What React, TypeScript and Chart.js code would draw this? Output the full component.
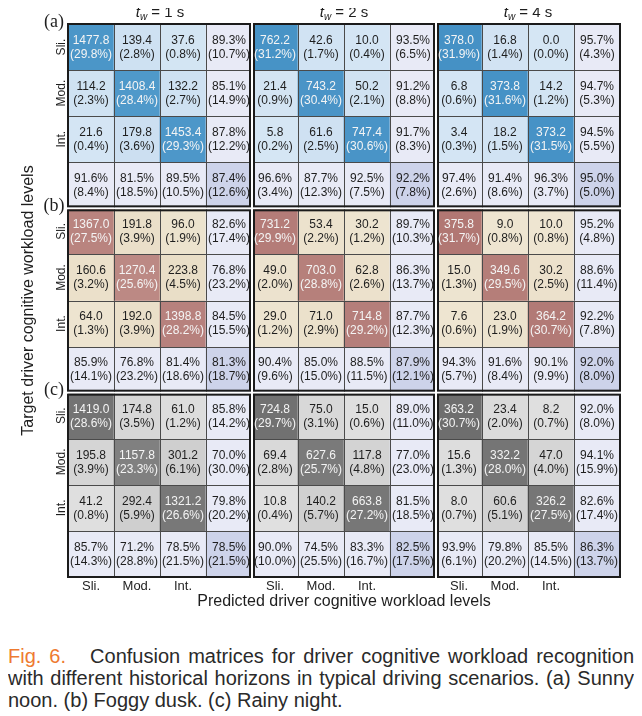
import { useEffect, useRef } from 'react';
import { Chart, registerables } from 'chart.js';

Chart.register(...registerables);

// Workload levels on both axes, historical horizons per column block, scenario tags per row block
const levels = ['Sli.', 'Mod.', 'Int.'];
const horizonLabels = ['1 s', '2 s', '4 s'];
const panelTags = ['(a)', '(b)', '(c)'];

// (a) Sunny noon — counts and shares, row-major 3x3 for each horizon
const sunnyCounts = [
  [1477.8, 139.4, 37.6, 114.2, 1408.4, 132.2, 21.6, 179.8, 1453.4],
  [762.2, 42.6, 10.0, 21.4, 743.2, 50.2, 5.8, 61.6, 747.4],
  [378.0, 16.8, 0.0, 6.8, 373.8, 14.2, 3.4, 18.2, 373.2],
];
const sunnyShares = [
  [29.8, 2.8, 0.8, 2.3, 28.4, 2.7, 0.4, 3.6, 29.3],
  [31.2, 1.7, 0.4, 0.9, 30.4, 2.1, 0.2, 2.5, 30.6],
  [31.9, 1.4, 0.0, 0.6, 31.6, 1.2, 0.3, 1.5, 31.5],
];
const sunnyRecall = [[89.3, 85.1, 87.8], [93.5, 91.2, 91.7], [95.7, 94.7, 94.5]];
const sunnyRecallMiss = [[10.7, 14.9, 12.2], [6.5, 8.8, 8.3], [4.3, 5.3, 5.5]];
const sunnyPrecision = [[91.6, 81.5, 89.5], [96.6, 87.7, 92.5], [97.4, 91.4, 96.3]];
const sunnyPrecisionMiss = [[8.4, 18.5, 10.5], [3.4, 12.3, 7.5], [2.6, 8.6, 3.7]];
const sunnyAccuracy = [87.4, 92.2, 95.0];
const sunnyAccuracyMiss = [12.6, 7.8, 5.0];

// (b) Foggy dusk
const foggyCounts = [
  [1367.0, 191.8, 96.0, 160.6, 1270.4, 223.8, 64.0, 192.0, 1398.8],
  [731.2, 53.4, 30.2, 49.0, 703.0, 62.8, 29.0, 71.0, 714.8],
  [375.8, 9.0, 10.0, 15.0, 349.6, 30.2, 7.6, 23.0, 364.2],
];
const foggyShares = [
  [27.5, 3.9, 1.9, 3.2, 25.6, 4.5, 1.3, 3.9, 28.2],
  [29.9, 2.2, 1.2, 2.0, 28.8, 2.6, 1.2, 2.9, 29.2],
  [31.7, 0.8, 0.8, 1.3, 29.5, 2.5, 0.6, 1.9, 30.7],
];
const foggyRecall = [[82.6, 76.8, 84.5], [89.7, 86.3, 87.7], [95.2, 88.6, 92.2]];
const foggyRecallMiss = [[17.4, 23.2, 15.5], [10.3, 13.7, 12.3], [4.8, 11.4, 7.8]];
const foggyPrecision = [[85.9, 76.8, 81.4], [90.4, 85.0, 88.5], [94.3, 91.6, 90.1]];
const foggyPrecisionMiss = [[14.1, 23.2, 18.6], [9.6, 15.0, 11.5], [5.7, 8.4, 9.9]];
const foggyAccuracy = [81.3, 87.9, 92.0];
const foggyAccuracyMiss = [18.7, 12.1, 8.0];

// (c) Rainy night
const rainyCounts = [
  [1419.0, 174.8, 61.0, 195.8, 1157.8, 301.2, 41.2, 292.4, 1321.2],
  [724.8, 75.0, 15.0, 69.4, 627.6, 117.8, 10.8, 140.2, 663.8],
  [363.2, 23.4, 8.2, 15.6, 332.2, 47.0, 8.0, 60.6, 326.2],
];
const rainyShares = [
  [28.6, 3.5, 1.2, 3.9, 23.3, 6.1, 0.8, 5.9, 26.6],
  [29.7, 3.1, 0.6, 2.8, 25.7, 4.8, 0.4, 5.7, 27.2],
  [30.7, 2.0, 0.7, 1.3, 28.0, 4.0, 0.7, 5.1, 27.5],
];
const rainyRecall = [[85.8, 70.0, 79.8], [89.0, 77.0, 81.5], [92.0, 94.1, 82.6]];
const rainyRecallMiss = [[14.2, 30.0, 20.2], [11.0, 23.0, 18.5], [8.0, 15.9, 17.4]];
const rainyPrecision = [[85.7, 71.2, 78.5], [90.0, 74.5, 83.3], [93.9, 79.8, 85.5]];
const rainyPrecisionMiss = [[14.3, 28.8, 21.5], [10.0, 25.5, 16.7], [6.1, 20.2, 14.5]];
const rainyAccuracy = [78.5, 82.5, 86.3];
const rainyAccuracyMiss = [21.5, 17.5, 13.7];

const panels = [
  { counts: sunnyCounts, shares: sunnyShares, recall: sunnyRecall, recallMiss: sunnyRecallMiss, precision: sunnyPrecision, precisionMiss: sunnyPrecisionMiss, accuracy: sunnyAccuracy, accuracyMiss: sunnyAccuracyMiss },
  { counts: foggyCounts, shares: foggyShares, recall: foggyRecall, recallMiss: foggyRecallMiss, precision: foggyPrecision, precisionMiss: foggyPrecisionMiss, accuracy: foggyAccuracy, accuracyMiss: foggyAccuracyMiss },
  { counts: rainyCounts, shares: rainyShares, recall: rainyRecall, recallMiss: rainyRecallMiss, precision: rainyPrecision, precisionMiss: rainyPrecisionMiss, accuracy: rainyAccuracy, accuracyMiss: rainyAccuracyMiss },
];

// Colour ramps per scenario: off-diagonal (light) and diagonal (strong)
const palettes = [
  { offLo: '#d5e6f4', offHi: '#c6dbef', diagLo: '#5fa4d2', diagHi: '#4591c5' },
  { offLo: '#efe6d3', offHi: '#e7dbc3', diagLo: '#c1918b', diagHi: '#b07672' },
  { offLo: '#e1e1e1', offHi: '#cfcfcf', diagLo: '#818181', diagHi: '#6b6b6b' },
];
const summaryColor = '#e8eaf6';
const overallColor = '#cdd3ea';
const FONT = '"Liberation Sans", Arial, Helvetica, sans-serif';

function hexToRgb(h: string) {
  const n = parseInt(h.slice(1), 16);
  return [(n >> 16) & 255, (n >> 8) & 255, n & 255];
}
function mix(a: string, b: string, t: number) {
  const k = Math.max(0, Math.min(1, t));
  const A = hexToRgb(a);
  const B = hexToRgb(b);
  const c = A.map((v, i) => Math.round(v + (B[i] - v) * k));
  return `rgb(${c[0]},${c[1]},${c[2]})`;
}

type Cell = { lines: [string, string]; fill: string; strong: boolean };

// Build the 12 x 12 grid of cells (3 scenarios x 3 horizons, each 4 x 4)
function buildCell(R: number, C: number): Cell {
  const p = Math.floor(R / 4);
  const h = Math.floor(C / 4);
  const r = R % 4;
  const c = C % 4;
  const d = panels[p];
  const pal = palettes[p];
  if (r < 3 && c < 3) {
    const i = r * 3 + c;
    const share = d.shares[h][i];
    const diag = r === c;
    const fill = diag
      ? mix(pal.diagLo, pal.diagHi, (share - 23) / 9)
      : mix(pal.offLo, pal.offHi, share / 6);
    return { lines: [d.counts[h][i].toFixed(1), `(${share.toFixed(1)}%)`], fill, strong: diag };
  }
  if (r < 3) {
    return { lines: [`${d.recall[h][r].toFixed(1)}%`, `(${d.recallMiss[h][r].toFixed(1)}%)`], fill: summaryColor, strong: false };
  }
  if (c < 3) {
    return { lines: [`${d.precision[h][c].toFixed(1)}%`, `(${d.precisionMiss[h][c].toFixed(1)}%)`], fill: summaryColor, strong: false };
  }
  return { lines: [`${d.accuracy[h].toFixed(1)}%`, `(${d.accuracyMiss[h].toFixed(1)}%)`], fill: overallColor, strong: false };
}

const N = 12;
const grid: Cell[][] = Array.from({ length: N }, (_, R) => Array.from({ length: N }, (_, C) => buildCell(R, C)));
const columnLabels = Array.from({ length: N }, (_, C) => (C % 4 < 3 ? levels[C % 4] : ''));
const rowTickValues = Array.from({ length: N }, (_, R) => R + 0.5).filter((v) => Math.floor(v) % 4 < 3);

const matrixDecor = {
  id: 'matrixDecor',
  afterDatasetsDraw(chart: any) {
    const { ctx, scales } = chart;
    const xs = scales.x;
    const ys = scales.y;
    const half = (xs.getPixelForValue(1) - xs.getPixelForValue(0)) / 2;
    const xe = (k: number) => xs.getPixelForValue(k) - half;
    const ye = (k: number) => ys.getPixelForValue(k);
    const top = ye(0);
    const bottom = ye(N);
    const left = xe(0);
    const right = xe(N);
    ctx.save();
    // thin cell separators
    ctx.strokeStyle = '#4a4a4a';
    ctx.lineWidth = 1;
    ctx.beginPath();
    for (let k = 1; k < N; k++) {
      if (k % 4 === 0) continue;
      const x = Math.round(xe(k)) + 0.5;
      ctx.moveTo(x, top);
      ctx.lineTo(x, bottom);
      const y = Math.round(ye(k)) + 0.5;
      ctx.moveTo(left, y);
      ctx.lineTo(right, y);
    }
    ctx.stroke();
    // white gaps between blocks
    ctx.fillStyle = '#ffffff';
    [4, 8].forEach((k) => {
      ctx.fillRect(xe(k) - 1, top - 2, 2, bottom - top + 4);
      ctx.fillRect(left - 2, ye(k) - 1, right - left + 4, 2);
    });
    // block frames
    ctx.strokeStyle = '#1b1b1b';
    ctx.lineWidth = 2;
    for (let bi = 0; bi < 3; bi++) {
      for (let bj = 0; bj < 3; bj++) {
        const x0 = xe(bj * 4) + (bj > 0 ? 2 : 0);
        const x1 = xe(bj * 4 + 4) - (bj < 2 ? 2 : 0);
        const y0 = ye(bi * 4) + (bi > 0 ? 2 : 0);
        const y1 = ye(bi * 4 + 4) - (bi < 2 ? 2 : 0);
        ctx.strokeRect(x0, y0, x1 - x0, y1 - y0);
      }
    }
    // cell texts, placed on each bar element
    ctx.font = `12px ${FONT}`;
    ctx.textAlign = 'center';
    ctx.textBaseline = 'middle';
    chart.data.datasets.forEach((_: any, R: number) => {
      const meta = chart.getDatasetMeta(R);
      meta.data.forEach((el: any, C: number) => {
        const cell = grid[R][C];
        const cy = (el.y + el.base) / 2;
        ctx.fillStyle = cell.strong ? '#f4f4f4' : '#1e1e1e';
        ctx.fillText(cell.lines[0], el.x, cy - 6.5);
        ctx.fillText(cell.lines[1], el.x, cy + 7.5);
      });
    });
    ctx.restore();
  },
  afterDraw(chart: any) {
    const { ctx, scales } = chart;
    const xs = scales.x;
    const ys = scales.y;
    const half = (xs.getPixelForValue(1) - xs.getPixelForValue(0)) / 2;
    const xe = (k: number) => xs.getPixelForValue(k) - half;
    ctx.save();
    ctx.fillStyle = '#1e1e1e';
    ctx.textBaseline = 'alphabetic';
    ctx.textAlign = 'left';
    // horizon headers: t_w = n s
    horizonLabels.forEach((lab, j) => {
      const cx = (xe(j * 4) + xe(j * 4 + 4)) / 2;
      const rest = ` = ${lab}`;
      ctx.font = `italic 15px ${FONT}`;
      const wt = ctx.measureText('t').width;
      ctx.font = `italic 10px ${FONT}`;
      const ww = ctx.measureText('w').width;
      ctx.font = `15px ${FONT}`;
      const wr = ctx.measureText(rest).width;
      let x = cx - (wt + ww + wr) / 2;
      const base = ys.getPixelForValue(0) - 7;
      ctx.font = `italic 15px ${FONT}`;
      ctx.fillText('t', x, base);
      x += wt;
      ctx.font = `italic 10px ${FONT}`;
      ctx.fillText('w', x, base + 3);
      x += ww;
      ctx.font = `15px ${FONT}`;
      ctx.fillText(rest, x, base);
    });
    // scenario tags
    ctx.font = '18px "Liberation Serif", "Times New Roman", serif';
    ctx.textAlign = 'center';
    ctx.textBaseline = 'middle';
    panelTags.forEach((tag, i) => {
      ctx.fillText(tag, xe(0) - 14, ys.getPixelForValue(i * 4) - 2);
    });
    ctx.restore();
  },
};

export default function App() {
  const ref = useRef<HTMLCanvasElement | null>(null);

  useEffect(() => {
    if (!ref.current) return;
    const datasets = grid.map((row, R) => ({
      label: `row ${R}`,
      data: row.map(() => 1),
      backgroundColor: row.map((c) => c.fill),
      borderWidth: 0,
      barPercentage: 1,
      categoryPercentage: 1,
      stack: 'cells',
    }));
    const chart = new Chart(ref.current, {
      type: 'bar',
      data: { labels: columnLabels, datasets },
      options: {
        responsive: false,
        animation: false,
        layout: { padding: { left: 8, right: 14, top: 16, bottom: 5 } },
        plugins: { legend: { display: false }, tooltip: { enabled: false } },
        scales: {
          x: {
            type: 'category',
            stacked: true,
            grid: { display: false, drawTicks: false },
            border: { display: false },
            ticks: {
              autoSkip: false,
              maxRotation: 0,
              minRotation: 0,
              padding: 2,
              color: '#1e1e1e',
              font: { family: FONT, size: 13 },
            },
            title: {
              display: true,
              text: 'Predicted driver cognitive workload levels',
              color: '#1e1e1e',
              font: { family: FONT, size: 16 },
              padding: { top: 0, bottom: 2 },
            },
            afterFit: (s: any) => {
              s.height = 36;
            },
          },
          y: {
            type: 'linear',
            stacked: true,
            min: 0,
            max: N,
            reverse: true,
            grid: { display: false, drawTicks: false },
            border: { display: false },
            afterBuildTicks: (s: any) => {
              s.ticks = rowTickValues.map((v) => ({ value: v }));
            },
            ticks: {
              autoSkip: false,
              minRotation: 90,
              maxRotation: 90,
              crossAlign: 'center',
              padding: -7.5,
              color: '#1e1e1e',
              font: { family: FONT, size: 12 },
              callback: (v: any) => {
                const r = Math.floor(Number(v)) % 4;
                return r < 3 ? levels[r] : '';
              },
            },
            title: {
              display: true,
              text: 'Target driver cognitive workload levels',
              color: '#1e1e1e',
              font: { family: FONT, size: 16 },
              padding: { top: 3, bottom: 0 },
            },
            afterFit: (s: any) => {
              s.width = 52;
            },
          },
        },
      } as any,
      plugins: [matrixDecor],
    });
    return () => chart.destroy();
  }, []);

  return (
    <div style={{ width: 626 }}>
      <canvas ref={ref} width={626} height={610} style={{ display: 'block' }} />
      <div
        style={{
          marginTop: 27,
          width: 626,
          fontFamily: FONT,
          fontSize: 20,
          lineHeight: '22px',
          textAlign: 'justify',
          color: '#2a2a2a',
        }}
      >
        <span style={{ color: '#ee7a30' }}>Fig. 6.</span>
        {'\u00a0\u00a0 '}Confusion matrices for driver cognitive workload recognition with different historical horizons in
        typical driving scenarios. (a) Sunny noon. (b) Foggy dusk. (c) Rainy night.
      </div>
    </div>
  );
}
